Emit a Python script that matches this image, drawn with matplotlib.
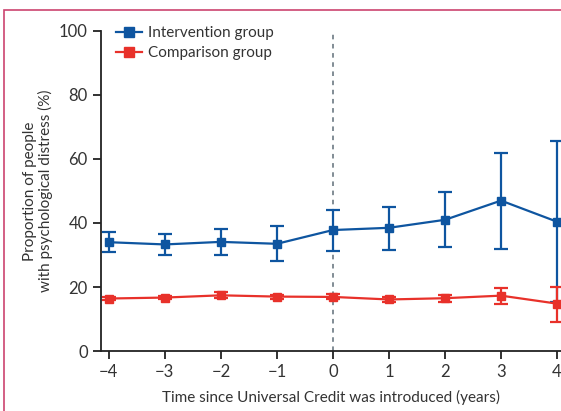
import matplotlib.pyplot as plt
from matplotlib.patches import Rectangle
from matplotlib.lines import Line2D

years = [-4, -3, -2, -1, 0, 1, 2, 3, 4]

interv = [34.0, 33.3, 34.1, 33.5, 37.8, 38.5, 41.0, 47.0, 40.4]
interv_lo = [30.9, 30.1, 30.1, 28.2, 31.4, 31.7, 32.6, 32.0, 15.4]
interv_hi = [37.1, 36.7, 38.2, 39.1, 44.1, 45.0, 49.8, 62.0, 65.6]

comp = [16.4, 16.7, 17.4, 17.0, 16.9, 16.1, 16.5, 17.3, 14.8]
comp_lo = [15.8, 16.1, 16.5, 16.4, 16.1, 15.4, 15.4, 14.8, 9.2]
comp_hi = [17.0, 17.3, 18.3, 17.6, 17.7, 16.8, 17.6, 19.8, 20.1]

yticks = [0, 20, 40, 60, 80, 100]

blue = '#0e55a0'
red = '#e8312a'

plt.rcParams['font.family'] = ['Lato', 'DejaVu Sans']

fig = plt.figure(figsize=(5.61, 4.11), dpi=100)
ax = fig.add_axes([101 / 561, 1 - 351 / 411, 460 / 561, 320 / 411])

# frame around the panel
fig.patches.append(Rectangle((3.5 / 561, -0.1), 1.2, 1 - 10.5 / 411 + 0.1,
                             transform=fig.transFigure, fill=False,
                             edgecolor='#cc4470', linewidth=1.2))

ax.axvline(0, color='#5f6e78', linestyle=(0, (3, 3)), linewidth=1.1, zorder=1)


def draw(vals, lo, hi, color):
    err = [[v - l for v, l in zip(vals, lo)], [h - v for v, h in zip(vals, hi)]]
    ax.errorbar(years, vals, yerr=err, color=color, linewidth=1.6,
                marker='s', markersize=6, elinewidth=1.6, capsize=5,
                capthick=1.6, clip_on=False, zorder=3)


draw(interv, interv_lo, interv_hi, blue)
draw(comp, comp_lo, comp_hi, red)

ax.set_xlim(-4.14, 4.07)
ax.set_ylim(0, 100)
ax.set_xticks(years)
ax.set_xticklabels([str(y).replace('-', '\u2212') for y in years])
ax.set_yticks(yticks)
for s in ['top', 'right']:
    ax.spines[s].set_visible(False)
for s in ['left', 'bottom']:
    ax.spines[s].set_linewidth(1.3)
    ax.spines[s].set_color('#222222')
ax.tick_params(direction='out', length=6, width=1.3, labelsize=12,
               colors='#222222', labelcolor='#333333')

ax.set_xlabel('Time since Universal Credit was introduced (years)',
              fontsize=11, color='#333333', labelpad=7)
ax.set_ylabel('Proportion of people\nwith psychological distress (%)',
              fontsize=11, color='#333333', labelpad=4, linespacing=1.15)

handles = [Line2D([], [], color=blue, linewidth=1.6, marker='s', markersize=7),
           Line2D([], [], color=red, linewidth=1.6, marker='s', markersize=7)]
ax.legend(handles, ['Intervention group', 'Comparison group'],
          loc='upper left', bbox_to_anchor=(0.003, 1.058), frameon=False,
          fontsize=11, handlelength=1.7, handletextpad=0.4,
          labelspacing=0.4, labelcolor='#333333')

fig.savefig('out.png', dpi=100)
